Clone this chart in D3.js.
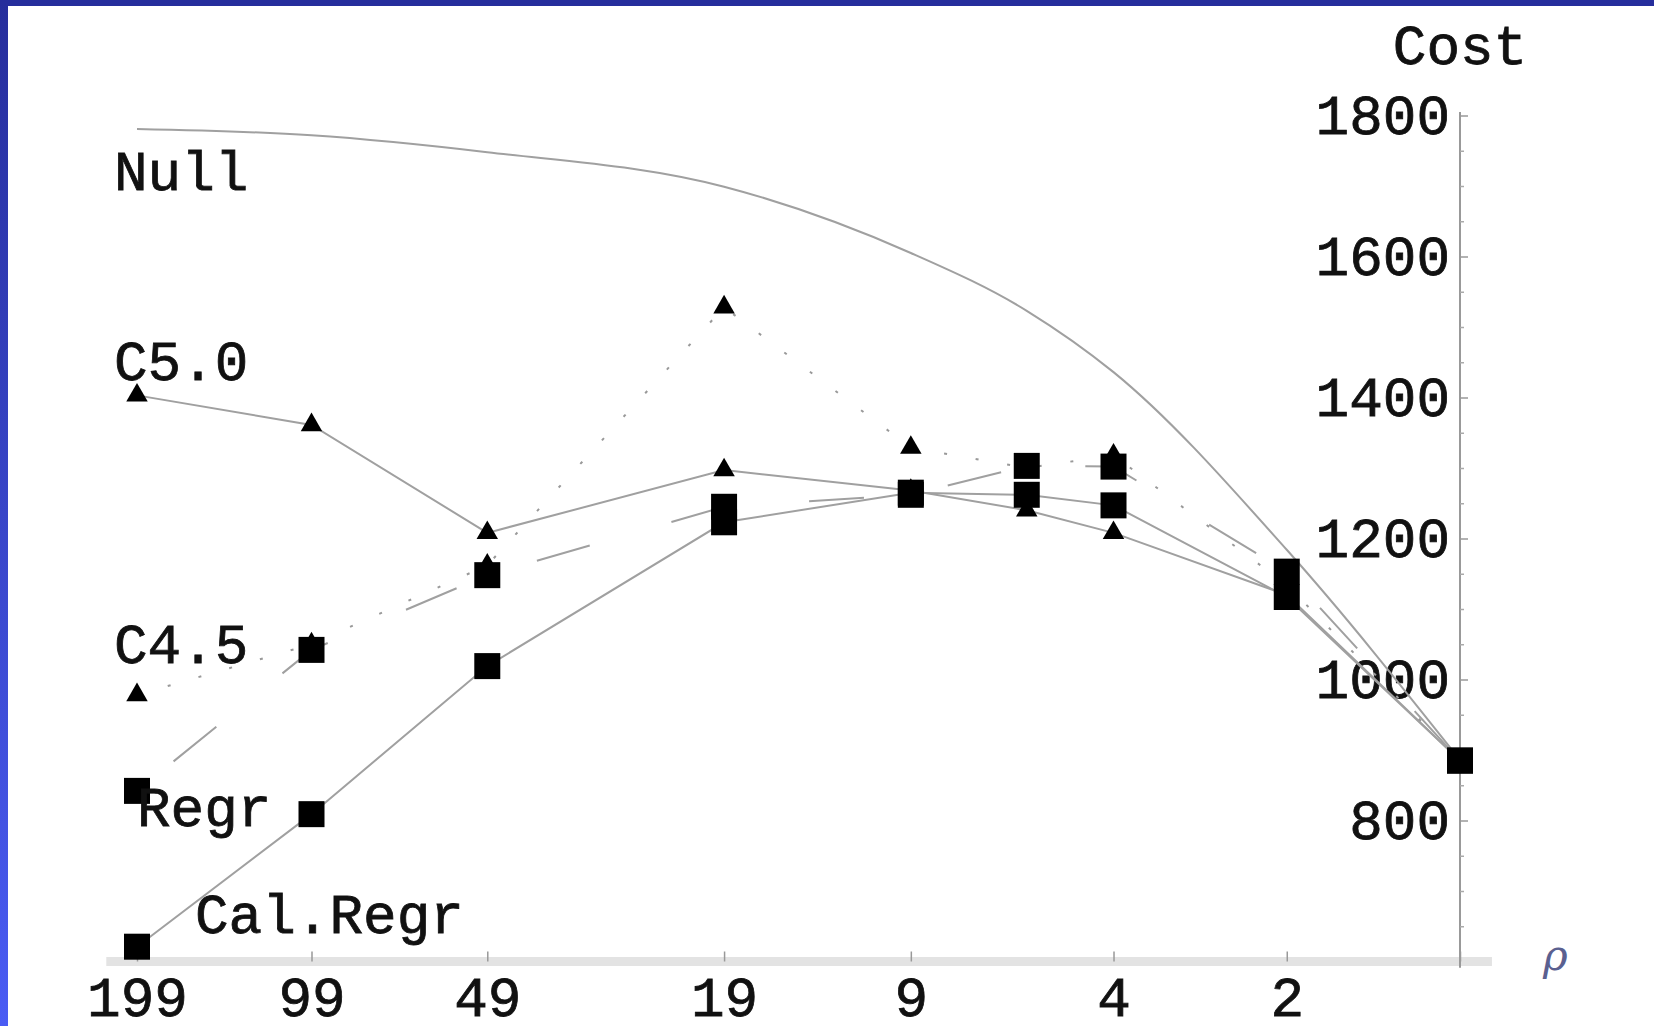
<!DOCTYPE html>
<html>
<head>
<meta charset="utf-8">
<script src="https://cdn.jsdelivr.net/npm/d3@7"></script>
<style>
  html, body { margin: 0; padding: 0; background: #fff; }
  svg { display: block; }
</style>
</head>
<body>
<div id="chart"></div>
<script>
// x values (cost ratio rho), log scale
const rho = [199, 99, 49, 19, 9, 5.66, 4, 2, 1];
const xTickValues = [199, 99, 49, 19, 9, 4, 2, 1];
const xTickLabels = ["199", "99", "49", "19", "9", "4", "2", ""];
const yTickValues = [800, 1000, 1200, 1400, 1600, 1800];

// Cost for each method
const nullCost    = [1781, 1772, 1748, 1699, 1605, 1523, 1436, 1184, 886];
const c50Cost     = [1403, 1361, 1208, 1297, 1268, 1240, 1208, 1120, 885];
const c45Cost     = [978, 1050, 1162, 1528, 1329, 1300, 1318, 1134, 885];
const regrCost    = [842, 1042, 1148, 1245, 1262, 1303, 1302, 1153, 885];
const calRegrCost = [621, 809, 1019, 1223, 1265, 1262, 1247, 1117, 885];

const seriesNames = ["Null", "C5.0", "C4.5", "Regr", "Cal.Regr"];
const seriesValues = [nullCost, c50Cost, c45Cost, regrCost, calRegrCost];

// Look of each series
const styles = {
  "Null":     { marker: null,       dash: null,    curve: d3.curveMonotoneX },
  "C5.0":     { marker: "triangle", dash: null,    curve: d3.curveLinear },
  "C4.5":     { marker: "triangle", dash: "3,29",  curve: d3.curveLinear },
  "Regr":     { marker: "square",   dash: "55,85", curve: d3.curveLinear, offset: 93 },
  "Cal.Regr": { marker: "square",   dash: null,    curve: d3.curveLinear }
};
const labelPos = {
  "Null": [114, 190], "C5.0": [114, 380], "C4.5": [114, 663],
  "Regr": [137, 826], "Cal.Regr": [195, 933]
};

const width = 1654, height = 1026;
const font = "'Courier New', 'Liberation Mono', monospace";

const svg = d3.select("#chart").append("svg")
  .attr("width", width)
  .attr("height", height);

svg.append("rect").attr("width", width).attr("height", height).attr("fill", "#fff");

// Scales
const x = d3.scaleLog().domain([1, 199]).range([1460, 137]);
const y = d3.scaleLinear().domain([600, 1800]).range([961.5, 115.5]);

// Text look shared by all labels
function textStyle(sel) {
  sel.attr("font-family", font)
    .attr("font-size", 56)
    .attr("fill", "#111")
    .attr("stroke", "#111")
    .attr("stroke-width", 0.8);
}

// Blue frame
const grad = svg.append("defs").append("linearGradient")
  .attr("id", "frameGrad")
  .attr("x1", 0).attr("y1", 0).attr("x2", 0).attr("y2", 1);
grad.append("stop").attr("offset", "0%").attr("stop-color", "#262e9c");
grad.append("stop").attr("offset", "100%").attr("stop-color", "#4a5cf4");
svg.append("rect").attr("width", width).attr("height", 6).attr("fill", "#262e9c");
svg.append("rect").attr("width", 8).attr("height", height).attr("fill", "url(#frameGrad)");

// x axis
svg.append("line")
  .attr("x1", x(225)).attr("x2", x(0.88))
  .attr("y1", y(600)).attr("y2", y(600))
  .attr("stroke", "#e3e3e3")
  .attr("stroke-width", 9);

const xAxis = svg.append("g")
  .attr("transform", `translate(0,${y(600)})`)
  .call(d3.axisBottom(x)
    .tickValues(xTickValues)
    .tickFormat((d, i) => xTickLabels[i])
    .tickSize(-10)
    .tickPadding(15));
xAxis.select(".domain").remove();
xAxis.selectAll(".tick line").attr("stroke", "#999").attr("stroke-width", 1.5);
xAxis.selectAll("text").call(textStyle);

// y axis
svg.append("line")
  .attr("x1", x(1)).attr("x2", x(1))
  .attr("y1", y(1805)).attr("y2", y(591))
  .attr("stroke", "#999")
  .attr("stroke-width", 2);

const yAxis = svg.append("g")
  .attr("transform", `translate(${x(1)},0)`)
  .call(d3.axisLeft(y)
    .tickValues(yTickValues)
    .tickSize(-8)
    .tickPadding(10)
    .tickFormat(d3.format("d")));
yAxis.select(".domain").remove();
yAxis.selectAll(".tick line").attr("stroke", "#999").attr("stroke-width", 1.5);
yAxis.selectAll("text").call(textStyle);

const minorTicks = d3.range(650, 1801, 50).filter(v => v % 200 !== 0);
const yMinor = svg.append("g")
  .attr("transform", `translate(${x(1)},0)`)
  .call(d3.axisLeft(y).tickValues(minorTicks).tickSize(-4).tickFormat(""));
yMinor.select(".domain").remove();
yMinor.selectAll(".tick line").attr("stroke", "#aaa").attr("stroke-width", 1.5);

// Axis titles
svg.append("text")
  .text("Cost")
  .attr("x", x(1))
  .attr("y", 64)
  .attr("text-anchor", "middle")
  .call(textStyle);

svg.append("text")
  .text("ρ")
  .attr("x", 1543)
  .attr("y", 970)
  .attr("font-family", "'DejaVu Serif', serif")
  .attr("font-style", "italic")
  .attr("font-size", 42)
  .attr("fill", "#5a6090");

// Series data
const series = seriesNames.map((name, i) => ({
  name,
  points: rho.map((r, j) => ({ rho: r, cost: seriesValues[i][j] })),
  style: styles[name]
}));

// Lines
const line = d3.line().x(d => x(d.rho)).y(d => y(d.cost));
svg.append("g")
  .selectAll("path")
  .data(series)
  .join("path")
    .attr("d", s => line.curve(s.style.curve)(s.points))
    .attr("fill", "none")
    .attr("stroke", s => s.style.dash === "3,29" ? "#999" : "#a0a0a0")
    .attr("stroke-width", 2)
    .attr("stroke-dasharray", s => s.style.dash)
    .attr("stroke-dashoffset", s => s.style.offset || 0);

// Markers: triangles first, squares over them
const triangle = d3.symbol(d3.symbolTriangle).size(200);
const square = d3.symbol(d3.symbolSquare).size(676);

["triangle", "square"].forEach(type => {
  const group = svg.append("g");
  series.filter(s => s.style.marker === type).forEach(s => {
    group.selectAll(null)
      .data(s.points)
      .join("path")
        .attr("d", type === "triangle" ? triangle : square)
        .attr("transform", d => `translate(${x(d.rho)},${y(d.cost)})`)
        .attr("fill", "#000");
  });
});

// Series labels
svg.append("g")
  .selectAll("text")
  .data(seriesNames)
  .join("text")
    .text(d => d)
    .attr("x", d => labelPos[d][0])
    .attr("y", d => labelPos[d][1])
    .call(textStyle);
</script>
</body>
</html>
